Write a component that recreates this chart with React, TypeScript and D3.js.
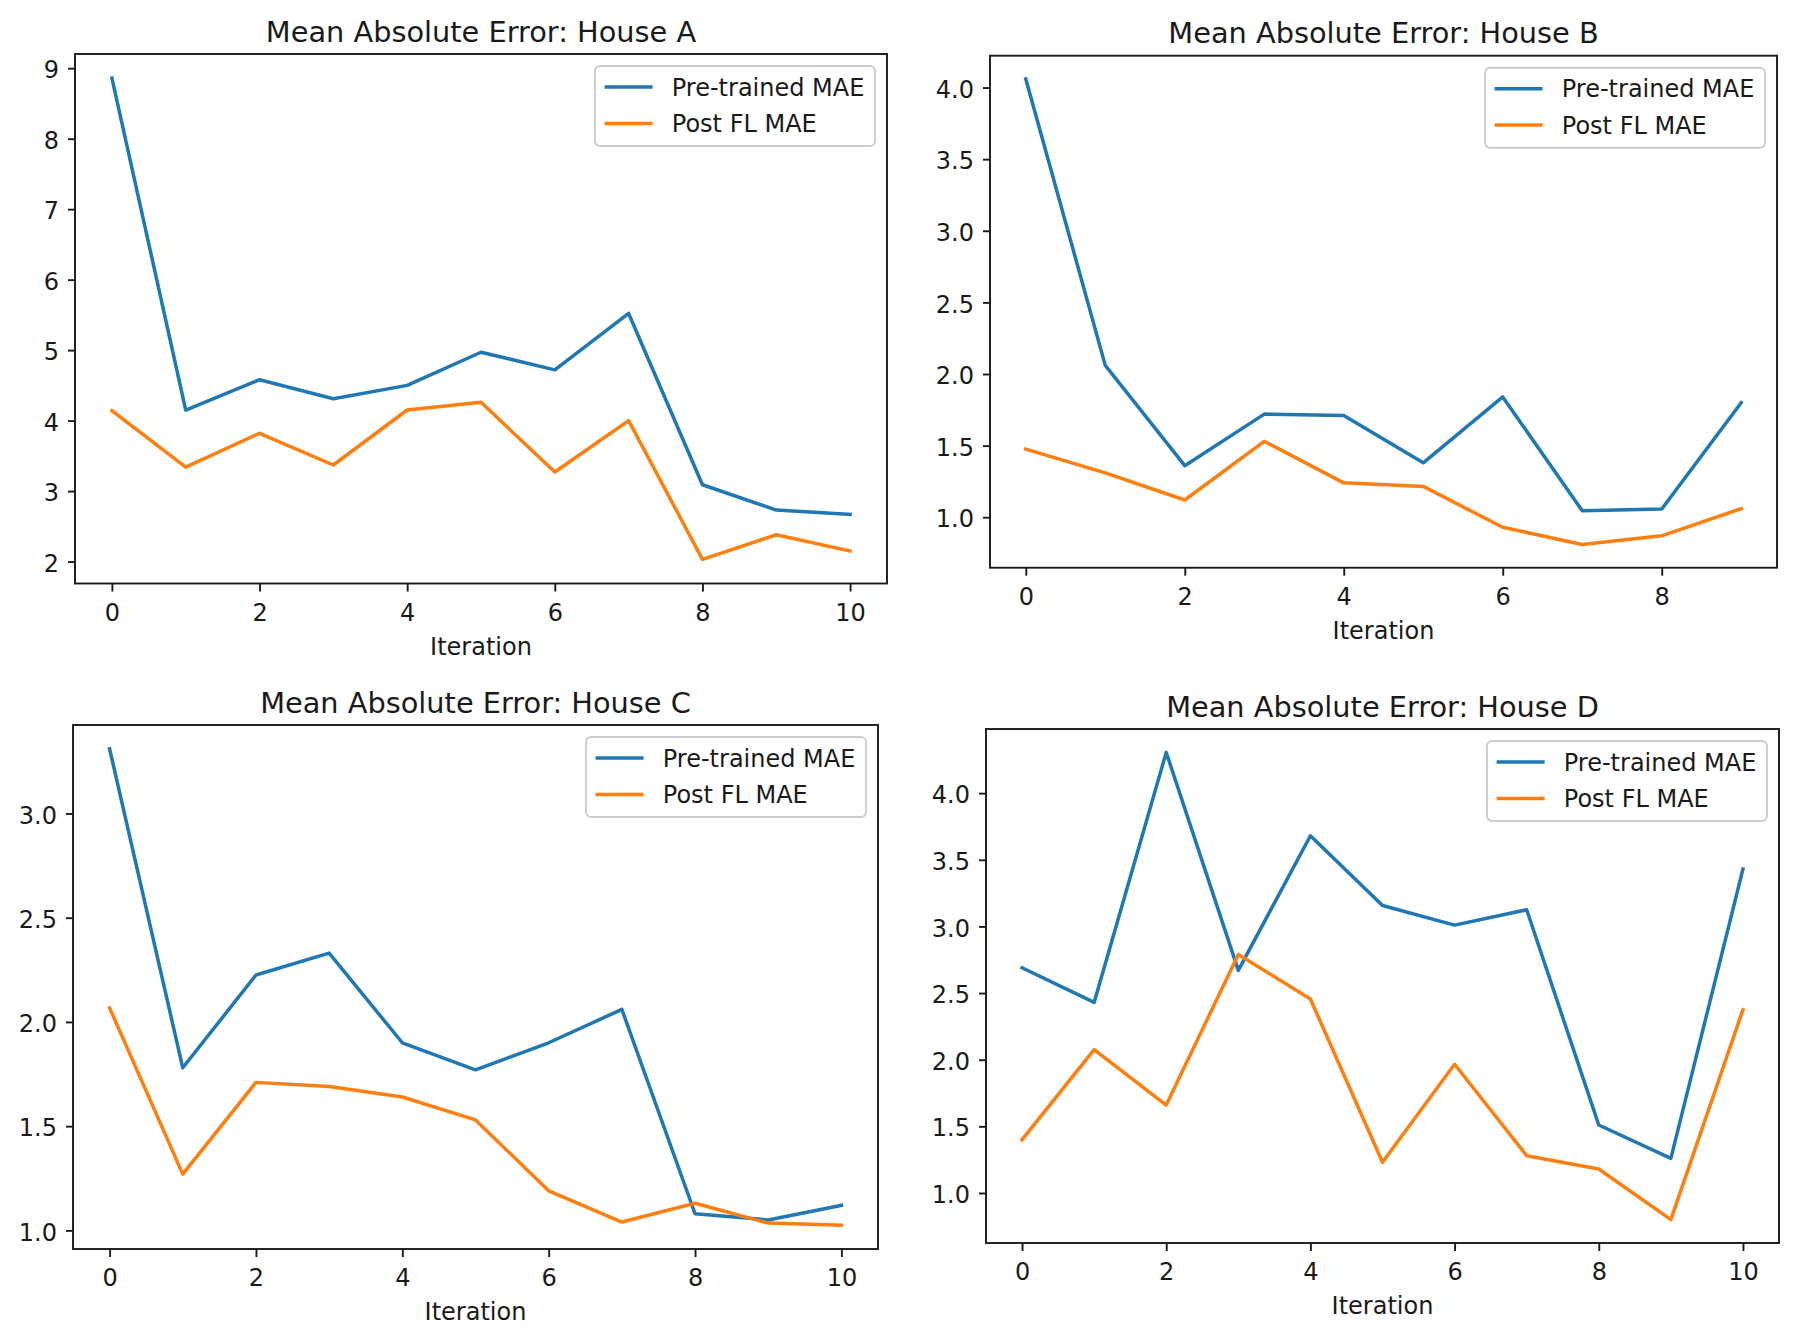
import { useEffect, useRef } from 'react';
import * as d3 from 'd3';

// Values
const iterationsA = [0, 1, 2, 3, 4, 5, 6, 7, 8, 9, 10];
const preA = [8.86, 4.15, 4.58, 4.31, 4.5, 4.97, 4.72, 5.52, 3.09, 2.73, 2.67];
const postA = [4.14, 3.34, 3.82, 3.37, 4.15, 4.26, 3.27, 4.0, 2.03, 2.38, 2.15];

const iterationsB = [0, 1, 2, 3, 4, 5, 6, 7, 8, 9];
const preB = [4.06, 2.06, 1.36, 1.72, 1.71, 1.38, 1.84, 1.045, 1.057, 1.8];
const postB = [1.475, 1.31, 1.12, 1.53, 1.24, 1.215, 0.93, 0.81, 0.87, 1.06];

const iterationsC = [0, 1, 2, 3, 4, 5, 6, 7, 8, 9, 10];
const preC = [3.31, 1.78, 2.225, 2.33, 1.9, 1.77, 1.9, 2.06, 1.08, 1.05, 1.12];
const postC = [2.067, 1.27, 1.71, 1.69, 1.64, 1.53, 1.19, 1.04, 1.13, 1.035, 1.025];

const iterationsD = [0, 1, 2, 3, 4, 5, 6, 7, 8, 9, 10];
const preD = [2.69, 2.43, 4.306, 2.67, 3.68, 3.157, 3.01, 3.125, 1.51, 1.26, 3.43];
const postD = [1.4, 2.075, 1.66, 2.79, 2.455, 1.23, 1.966, 1.28, 1.18, 0.8, 2.375];

const xTicksA = [0, 2, 4, 6, 8, 10];
const xTicksB = [0, 2, 4, 6, 8];
const yTicksA = [2, 3, 4, 5, 6, 7, 8, 9];
const yTicksB = [1.0, 1.5, 2.0, 2.5, 3.0, 3.5, 4.0];
const yTicksC = [1.0, 1.5, 2.0, 2.5, 3.0];
const yTicksD = [1.0, 1.5, 2.0, 2.5, 3.0, 3.5, 4.0];

const seriesNames = ['Pre-trained MAE', 'Post FL MAE'];
const houses = ['A', 'B', 'C', 'D'];

const COLORS = {
  pre: '#1f77b4',
  post: '#ff7f0e',
  text: '#1a1a1a',
  spine: '#1a1a1a',
  legendEdge: '#cccccc',
};

const FONT = 'DejaVu Sans, sans-serif';
const TICK_SIZE = 24;
const TITLE_SIZE = 28.8;

interface PanelSpec {
  house: string;
  x: number[];
  pre: number[];
  post: number[];
  xTicks: number[];
  yTicks: number[];
  yFormat: (v: number) => string;
  box: { left: number; right: number; top: number; bottom: number };
}

const PANELS: PanelSpec[] = [
  {
    house: houses[0], x: iterationsA, pre: preA, post: postA,
    xTicks: xTicksA, yTicks: yTicksA, yFormat: d3.format('d'),
    box: { left: 75, right: 887, top: 54, bottom: 583.5 },
  },
  {
    house: houses[1], x: iterationsB, pre: preB, post: postB,
    xTicks: xTicksB, yTicks: yTicksB, yFormat: d3.format('.1f'),
    box: { left: 990, right: 1777, top: 55.7, bottom: 567.7 },
  },
  {
    house: houses[2], x: iterationsC, pre: preC, post: postC,
    xTicks: xTicksA, yTicks: yTicksC, yFormat: d3.format('.1f'),
    box: { left: 73, right: 878, top: 725, bottom: 1249 },
  },
  {
    house: houses[3], x: iterationsD, pre: preD, post: postD,
    xTicks: xTicksA, yTicks: yTicksD, yFormat: d3.format('.1f'),
    box: { left: 986, right: 1779, top: 729, bottom: 1243 },
  },
];

// matplotlib-style auto limits: 5% margin on each side
function padded(values: number[]): [number, number] {
  const [lo, hi] = d3.extent(values) as [number, number];
  const m = (hi - lo) * 0.05;
  return [lo - m, hi + m];
}

function drawPanel(root: d3.Selection<SVGGElement, unknown, null, undefined>, p: PanelSpec) {
  const { left, right, top, bottom } = p.box;
  const w = right - left;
  const h = bottom - top;

  const x = d3.scaleLinear().domain(padded(p.x)).range([0, w]);
  const y = d3.scaleLinear().domain(padded([...p.pre, ...p.post])).range([h, 0]);

  const g = root.append('g').attr('transform', `translate(${left},${top})`);

  // lines
  const line = d3.line<number>()
    .x((_, i) => x(p.x[i]))
    .y(d => y(d));

  [
    { vals: p.pre, color: COLORS.pre },
    { vals: p.post, color: COLORS.post },
  ].forEach(s => {
    g.append('path')
      .datum(s.vals)
      .attr('d', line)
      .attr('fill', 'none')
      .attr('stroke', s.color)
      .attr('stroke-width', 3.5)
      .attr('stroke-linejoin', 'round')
      .attr('stroke-linecap', 'square');
  });

  // x axis
  const xAxis = g.append('g')
    .attr('transform', `translate(0,${h})`)
    .call(d3.axisBottom(x).tickValues(p.xTicks).tickFormat(d3.format('d')).tickSize(8).tickPadding(12));
  xAxis.select('.domain').remove();
  xAxis.selectAll('line').attr('stroke', COLORS.spine).attr('stroke-width', 1.9);
  xAxis.selectAll('text')
    .attr('font-family', FONT)
    .attr('font-size', TICK_SIZE)
    .attr('fill', COLORS.text);

  // y axis
  const yAxis = g.append('g')
    .call(d3.axisLeft(y).tickValues(p.yTicks).tickFormat(p.yFormat as any).tickSize(7).tickPadding(9));
  yAxis.select('.domain').remove();
  yAxis.selectAll('line').attr('stroke', COLORS.spine).attr('stroke-width', 1.9);
  yAxis.selectAll('text')
    .attr('font-family', FONT)
    .attr('font-size', TICK_SIZE)
    .attr('fill', COLORS.text)
    .attr('dy', '0.4em');

  // frame
  g.append('rect')
    .attr('x', 0).attr('y', 0)
    .attr('width', w).attr('height', h)
    .attr('fill', 'none')
    .attr('stroke', COLORS.spine)
    .attr('stroke-width', 1.9);

  // title
  g.append('text')
    .attr('x', w / 2)
    .attr('y', -12.5)
    .attr('text-anchor', 'middle')
    .attr('font-family', FONT)
    .attr('font-size', TITLE_SIZE)
    .attr('fill', COLORS.text)
    .text(`Mean Absolute Error: House ${p.house}`);

  // x label
  g.append('text')
    .attr('x', w / 2)
    .attr('y', h + 71)
    .attr('text-anchor', 'middle')
    .attr('font-family', FONT)
    .attr('font-size', TICK_SIZE)
    .attr('fill', COLORS.text)
    .text('Iteration');

  // legend (upper right)
  const lw = 280;
  const lh = 80;
  const lx = w - 12 - lw;
  const ly = 12;
  const lg = g.append('g').attr('transform', `translate(${lx},${ly})`);
  lg.append('rect')
    .attr('width', lw).attr('height', lh)
    .attr('rx', 5)
    .attr('fill', 'white')
    .attr('fill-opacity', 0.8)
    .attr('stroke', COLORS.legendEdge)
    .attr('stroke-width', 1.9);
  [COLORS.pre, COLORS.post].forEach((c, i) => {
    const cy = 21 + i * 36.4;
    lg.append('line')
      .attr('x1', 9.6).attr('x2', 57.6)
      .attr('y1', cy).attr('y2', cy)
      .attr('stroke', c)
      .attr('stroke-width', 3.5);
    lg.append('text')
      .attr('x', 76.8)
      .attr('y', cy + 8.5)
      .attr('font-family', FONT)
      .attr('font-size', TICK_SIZE)
      .attr('fill', COLORS.text)
      .text(seriesNames[i]);
  });
}

export default function App() {
  const gRef = useRef<SVGGElement>(null);

  useEffect(() => {
    if (!gRef.current) return;
    const root = d3.select(gRef.current);
    root.selectAll('*').remove();
    PANELS.forEach(p => drawPanel(root, p));
  }, []);

  return (
    <svg
      width={1794}
      height={1339}
      style={{ position: 'absolute', left: 0, top: 0, background: 'white' }}
    >
      <rect width={1794} height={1339} fill="white" />
      <g ref={gRef} />
    </svg>
  );
}
